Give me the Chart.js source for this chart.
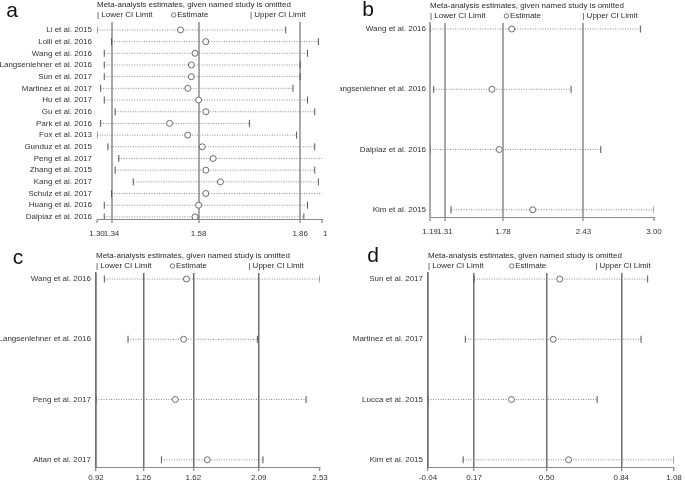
<!DOCTYPE html>
<html>
<head>
<meta charset="utf-8">
<script src="https://cdn.jsdelivr.net/npm/chart.js@4.4.1/dist/chart.umd.min.js"></script>
<style>
  body { margin: 0; background: #fff; width: 685px; height: 480px; position: relative; overflow: hidden; }
  canvas { position: absolute; }
</style>
</head>
<body>
<canvas id="panel-a" width="327" height="240" style="left:0;top:0"></canvas>
<canvas id="panel-b" width="345" height="240" style="left:340px;top:0"></canvas>
<canvas id="panel-c" width="340" height="240" style="left:0;top:240px"></canvas>
<canvas id="panel-d" width="345" height="240" style="left:340px;top:240px"></canvas>
<script>
// a. 17 studies
const studiesA = ['Li et al. 2015', 'Lolli et al. 2016', 'Wang et al. 2016', 'Langsenlehner et al. 2016',
  'Sun et al. 2017', 'Martinez et al. 2017', 'Hu et al. 2017', 'Gu et al. 2016', 'Park et al. 2016',
  'Fox et al. 2013', 'Gunduz et al. 2015', 'Peng et al. 2017', 'Zhang et al. 2015', 'Kang et al. 2017',
  'Schulz et al. 2017', 'Huang et al. 2016', 'Dalpiaz et al. 2016'];
const lowerA = [1.30, 1.34, 1.32, 1.32, 1.32, 1.31, 1.32, 1.35, 1.31, 1.30, 1.33, 1.36, 1.35, 1.40, 1.34, 1.32, 1.32];
const estA   = [1.53, 1.60, 1.57, 1.56, 1.56, 1.55, 1.58, 1.60, 1.50, 1.55, 1.59, 1.62, 1.60, 1.64, 1.60, 1.58, 1.57];
const upperA = [1.82, 1.91, 1.88, 1.86, 1.86, 1.84, 1.88, 1.90, 1.72, 1.85, 1.90, 1.93, 1.90, 1.91, 1.93, 1.88, 1.87];
const ticksA = [1.30, 1.34, 1.58, 1.86, 1.92];

// b
const studiesB = ['Wang et al. 2016', 'Langsenlehner et al. 2016', 'Dalpiaz et al. 2016', 'Kim et al. 2015'];
const lowerB = [1.19, 1.22, 1.19, 1.36];
const estB   = [1.85, 1.69, 1.75, 2.02];
const upperB = [2.89, 2.33, 2.57, 3.00];
const ticksB = [1.19, 1.31, 1.78, 2.43, 3.00];

// c
const studiesC = ['Wang et al. 2016', 'Langsenlehner et al. 2016', 'Peng et al. 2017', 'Altan et al. 2017'];
const lowerC = [0.98, 1.15, 0.92, 1.39];
const estC   = [1.57, 1.55, 1.49, 1.72];
const upperC = [2.53, 2.08, 2.43, 2.12];
const ticksC = [0.92, 1.26, 1.62, 2.09, 2.53];

// d
const studiesD = ['Sun et al. 2017', 'Martinez et al. 2017', 'Lucca et al. 2015', 'Kim et al. 2015'];
const lowerD = [0.17, 0.13, -0.04, 0.12];
const estD   = [0.56, 0.53, 0.34, 0.60];
const upperD = [0.96, 0.93, 0.73, 1.08];
const ticksD = [-0.04, 0.17, 0.50, 0.84, 1.08];

// narrow font if there is one, else a smaller regular one
function hasFont(name) {
    const c = document.createElement('canvas').getContext('2d');
    const s = 'Langsenlehner et al. 2016';
    c.font = '20px monospace';
    const w0 = c.measureText(s).width;
    c.font = '20px "' + name + '", monospace';
    return c.measureText(s).width !== w0;
}
const NARROW = hasFont('Liberation Sans Narrow');
const FAMILY = NARROW ? '"Liberation Sans Narrow", "Liberation Sans", Arial, sans-serif' : '"Liberation Sans", Arial, sans-serif';
const FS = NARROW ? 9.5 : 8;
Chart.defaults.font.family = FAMILY;
Chart.defaults.font.size = FS;
Chart.defaults.color = '#333';

const headPlugin = {
    id: 'head',
    afterDraw(chart, args, o) {
        const { ctx, chartArea: a } = chart;
        const w = a.right - a.left;
        ctx.save();
        ctx.fillStyle = '#2a2a2a';
        ctx.strokeStyle = '#555';
        ctx.font = FS + 'px ' + FAMILY;
        ctx.textBaseline = 'middle';
        ctx.textAlign = 'left';
        ctx.fillText('Meta-analysis estimates, given named study is omitted', a.left, a.top - 17);
        const y = a.top - 7;
        ctx.fillText('| Lower CI Limit', a.left, y);
        const ex = a.left + 0.33 * w;
        ctx.beginPath();
        ctx.arc(ex + 2.5, y, 2.2, 0, Math.PI * 2);
        ctx.lineWidth = 0.8;
        ctx.stroke();
        ctx.fillText('Estimate', ex + 6, y);
        ctx.fillText('| Upper CI Limit', a.left + 0.68 * w, y);
        ctx.font = '21px "Liberation Sans", Arial, sans-serif';
        ctx.fillStyle = '#111';
        ctx.textAlign = 'center';
        ctx.fillText(o.letter, o.lx, o.ly);
        ctx.restore();
    }
};

function makePanel(id, p) {
    const canvas = document.getElementById(id);
    const W = canvas.width, H = canvas.height;
    const last = p.ticks.length - 1;

    const ciLines = p.names.map((name, i) => ({
        type: 'line',
        data: [{ x: p.lower[i], y: i }, { x: p.upper[i], y: i }],
        borderColor: '#8a8a8a',
        borderWidth: 1,
        borderDash: [1, 1.5],
        pointRadius: 0,
        order: 3,
    }));
    const ends = p.lower.map((v, i) => ({ x: v, y: i })).concat(p.upper.map((v, i) => ({ x: v, y: i })));

    return new Chart(canvas, {
        type: 'scatter',
        data: {
            datasets: [
                {
                    data: p.est.map((v, i) => ({ x: v, y: i })),
                    pointStyle: 'circle',
                    pointRadius: 3,
                    borderWidth: 1,
                    borderColor: '#6a6a6a',
                    backgroundColor: '#fff',
                    order: 1,
                },
                {
                    data: ends,
                    pointStyle: 'line',
                    rotation: 90,
                    pointRadius: 3.5,
                    borderWidth: 1,
                    borderColor: '#555',
                    order: 2,
                },
                ...ciLines
            ]
        },
        options: {
            responsive: false,
            animation: false,
            events: [],
            layout: { padding: { left: 0, top: p.top, right: W - p.right, bottom: 0 } },
            scales: {
                x: {
                    type: 'linear',
                    min: p.ticks[0], max: p.ticks[last],
                    afterBuildTicks: s => { s.ticks = p.ticks.map(v => ({ value: v })); },
                    // keep the plot box where it is; labels may run past it
                    afterFit: s => { s.height = H - p.bottom; s.paddingLeft = 0; s.paddingRight = 0; },
                    ticks: { autoSkip: false, maxRotation: 0, minRotation: 0, padding: p.tickPad,
                        // the last label of panel a runs off the edge of the picture
                        callback: (v, i) => (p.cutLast && i === last ? '        ' : '') + v.toFixed(2),
                        color: '#333' },
                    grid: {
                        color: ctx => (ctx.index === last || (ctx.index === 0 && !p.axisLine)) ? 'rgba(0,0,0,0)' : p.lineColor,
                        lineWidth: p.lineWidth,
                        drawTicks: true, tickLength: 4, tickColor: '#666', tickWidth: 1,
                    },
                    border: { color: '#888', width: 1 },
                },
                y: {
                    type: 'linear',
                    reverse: true,
                    min: p.yMin, max: p.yMax,
                    afterBuildTicks: s => { s.ticks = p.names.map((_, i) => ({ value: i })); },
                    afterFit: s => { s.width = p.left; s.paddingTop = 0; s.paddingBottom = 0; },
                    ticks: { autoSkip: false, padding: p.labelPad, callback: v => p.names[v], color: '#333' },
                    grid: { display: false, drawTicks: false },
                    border: { display: p.axisLine, color: p.lineColor, width: p.lineWidth },
                },
            },
            plugins: {
                legend: { display: false },
                tooltip: { enabled: false },
                head: { letter: p.letter, lx: p.lx, ly: p.ly },
            }
        },
        plugins: [headPlugin]
    });
}

makePanel('panel-a', { names: studiesA, lower: lowerA, est: estA, upper: upperA, ticks: ticksA,
    left: 97, right: 324, top: 22, bottom: 219, yMin: -0.68, yMax: 16.18, tickPad: 6, labelPad: 5, cutLast: true,
    lineColor: '#a8a8a8', lineWidth: 2, axisLine: false, letter: 'a', lx: 12, ly: 11 });
makePanel('panel-b', { names: studiesB, lower: lowerB, est: estB, upper: upperB, ticks: ticksB,
    left: 90, right: 314, top: 23, bottom: 217, yMin: -0.1, yMax: 3.12, tickPad: 6, labelPad: 4,
    lineColor: '#a8a8a8', lineWidth: 2, axisLine: true, letter: 'b', lx: 28, ly: 10 });
makePanel('panel-c', { names: studiesC, lower: lowerC, est: estC, upper: upperC, ticks: ticksC,
    left: 96, right: 320, top: 33, bottom: 227, yMin: -0.1, yMax: 3.12, tickPad: 2, labelPad: 5,
    lineColor: '#707070', lineWidth: 1.5, axisLine: true, letter: 'c', lx: 18, ly: 18 });
makePanel('panel-d', { names: studiesD, lower: lowerD, est: estD, upper: upperD, ticks: ticksD,
    left: 88, right: 334, top: 33, bottom: 227, yMin: -0.1, yMax: 3.12, tickPad: 2, labelPad: 5,
    lineColor: '#707070', lineWidth: 1.5, axisLine: true, letter: 'd', lx: 33, ly: 16 });
</script>
</body>
</html>
